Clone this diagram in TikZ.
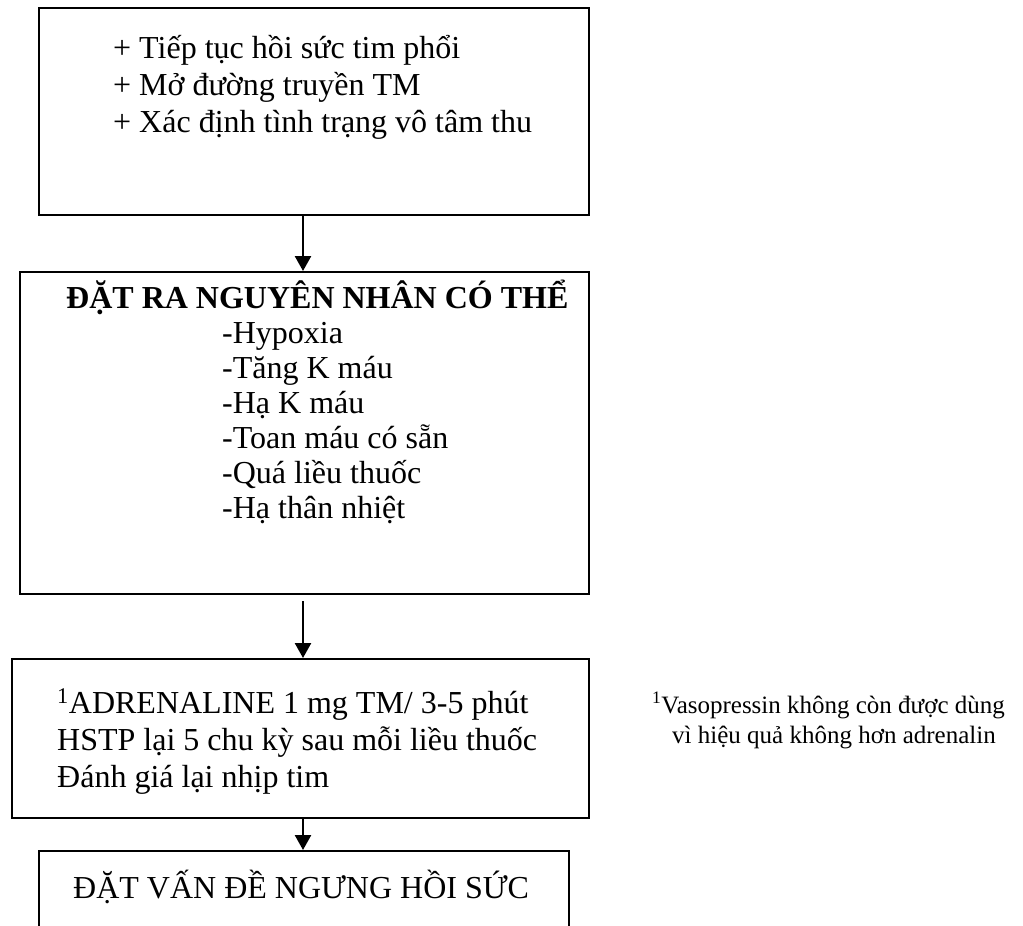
\documentclass[tikz,border=0pt]{standalone}
\usepackage{fontspec}
\setmainfont{Liberation Serif}
\usetikzlibrary{arrows.meta}
\tikzset{
  flowbox/.style={draw, line width=2pt, inner sep=0pt, anchor=north west},
  txt/.style={anchor=base west, inner sep=0pt, font=\fontsize{32}{37}\selectfont},
  note/.style={anchor=base west, inner sep=0pt, font=\fontsize{25}{30}\selectfont},
  flow/.style={-{Triangle[length=15pt,width=16pt]}, line width=2.5pt}
}
\begin{document}
\begin{tikzpicture}[x=1pt,y=-1pt]
\useasboundingbox (0,0) rectangle (1023,926);
\clip (0,0) rectangle (1023,926);

% boxes
\node[flowbox, minimum width=550pt, minimum height=207pt] (b1) at (38,7) {};
\node[flowbox, minimum width=569pt, minimum height=322pt] (b2) at (19,271) {};
\node[flowbox, minimum width=577pt, minimum height=159pt] (b3) at (11,658) {};
\node[flowbox, minimum width=530pt, minimum height=120pt] (b4) at (38,850) {};

% first box
\node[txt] (t11) at (113,58) {+ Tiếp tục hồi sức tim phổi};
\node[txt] (t12) at (113,95) {+ Mở đường truyền TM};
\node[txt] (t13) at (113,132) {+ Xác định tình trạng vô tâm thu};

% causes
\node[txt, font=\fontsize{32}{37}\selectfont\bfseries] (t20) at (66,308) {ĐẶT RA NGUYÊN NHÂN CÓ THỂ};
\node[txt] (t21) at (222,343) {-Hypoxia};
\node[txt] (t22) at (222,378) {-Tăng K máu};
\node[txt] (t23) at (222,413) {-Hạ K máu};
\node[txt] (t24) at (222,448) {-Toan máu có sẵn};
\node[txt] (t25) at (222,483) {-Quá liều thuốc};
\node[txt] (t26) at (222,518) {-Hạ thân nhiệt};

% drug box
\node[txt] (t31) at (57,713) {\textsuperscript{1}ADRENALINE 1 mg TM/ 3-5 phút};
\node[txt] (t32) at (57,750) {HSTP lại 5 chu kỳ sau mỗi liều thuốc};
\node[txt] (t33) at (57,787) {Đánh giá lại nhịp tim};

% last box
\node[txt] (t41) at (73,898) {ĐẶT VẤN ĐỀ NGƯNG HỒI SỨC};

% footnote
\node[note] (n1) at (652,713) {\textsuperscript{1}Vasopressin không còn được dùng};
\node[note] (n2) at (672,743) {vì hiệu quả không hơn adrenalin};

% connectors
\draw[flow] (b1.south -| 303,0) -- (b2.north -| 303,0);
\draw[flow, shorten <=6pt] (b2.south -| 303,0) -- (b3.north -| 303,0);
\draw[flow] (b3.south -| 303,0) -- (b4.north -| 303,0);
\end{tikzpicture}
\end{document}
